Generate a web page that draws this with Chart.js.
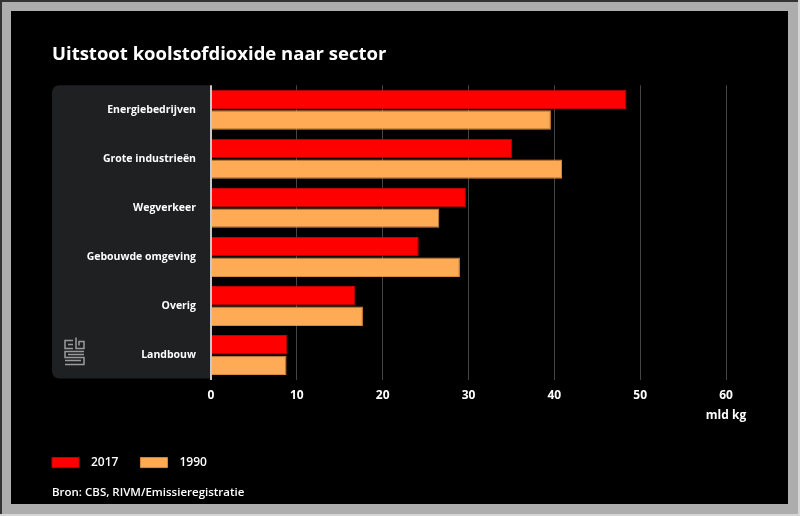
<!DOCTYPE html>
<html>
<head>
<meta charset="utf-8">
<script src="https://cdn.jsdelivr.net/npm/chart.js@4/dist/chart.umd.min.js"></script>
<style>
  html, body { margin: 0; padding: 0; background: #000; }
  #wrap { width: 800px; height: 516px; position: relative; }
</style>
</head>
<body>
<div id="wrap"><canvas id="chart" width="800" height="516"></canvas></div>
<script>
// data (mld kg CO2)
const sectors = ['Energiebedrijven', 'Grote industrieën', 'Wegverkeer', 'Gebouwde omgeving', 'Overig', 'Landbouw'];
const values2017 = [48.4, 35.1, 29.7, 24.2, 16.8, 8.9];
const values1990 = [39.6, 40.9, 26.6, 29.0, 17.7, 8.8];
const xTicks = [0, 10, 20, 30, 40, 50, 60];
const unitLabel = 'mld kg';

const FONT = '"Open Sans", "Noto Sans", sans-serif';

// grey photo frame + dark label panel + cbs logo
const framePlugin = {
    id: 'frame',
    beforeDraw(chart) {
        const ctx = chart.ctx;
        const W = chart.width, H = chart.height;
        ctx.save();
        ctx.fillStyle = '#adadad';
        ctx.fillRect(0, 0, W, H);
        ctx.fillStyle = '#333';
        ctx.fillRect(0, 0, W, 2);
        ctx.fillRect(0, 0, 2, H);
        ctx.fillStyle = '#d6d6d6';
        ctx.fillRect(W - 2, 0, 2, H);
        ctx.fillRect(0, H - 2, W, 2);
        ctx.fillStyle = '#000';
        ctx.fillRect(11, 11, 777, 493);

        // panel behind category labels
        const ca = chart.chartArea;
        const y = chart.scales.y;
        const x0 = y.left, x1 = ca.left, top = ca.top, bot = ca.bottom - 1;
        const r = 8;
        ctx.fillStyle = '#1f2022';
        ctx.beginPath();
        ctx.moveTo(x1, top);
        ctx.lineTo(x0 + r, top);
        ctx.quadraticCurveTo(x0, top, x0, top + r);
        ctx.lineTo(x0, bot - r);
        ctx.quadraticCurveTo(x0, bot, x0 + r, bot);
        ctx.lineTo(x1, bot);
        ctx.closePath();
        ctx.fill();

        // rough cbs logo
        const lx = x0 + 13, ly = bot - 41;
        ctx.strokeStyle = '#9a9a9a';
        ctx.lineWidth = 1.5;
        ctx.beginPath();
        // c
        ctx.moveTo(lx + 8, ly + 3); ctx.lineTo(lx, ly + 3); ctx.lineTo(lx, ly + 11); ctx.lineTo(lx + 8, ly + 11);
        ctx.moveTo(lx + 8, ly + 7); ctx.lineTo(lx + 3, ly + 7);
        // b
        ctx.moveTo(lx + 11, ly); ctx.lineTo(lx + 11, ly + 11); ctx.lineTo(lx + 19, ly + 11); ctx.lineTo(lx + 19, ly + 4); ctx.lineTo(lx + 14, ly + 4); ctx.lineTo(lx + 14, ly + 8);
        // s
        ctx.moveTo(lx + 19, ly + 14); ctx.lineTo(lx, ly + 14); ctx.lineTo(lx, ly + 20); ctx.lineTo(lx + 19, ly + 20);
        ctx.lineTo(lx + 19, ly + 27); ctx.lineTo(lx, ly + 27);
        ctx.moveTo(lx + 3, ly + 17); ctx.lineTo(lx + 19, ly + 17);
        ctx.moveTo(lx, ly + 23); ctx.lineTo(lx + 16, ly + 23);
        ctx.stroke();
        ctx.restore();
    },
    afterLayout(chart) {
        // legend starts flush with the title
        chart.legend.left -= 10;
        chart.legend.right -= 10;
    }
};

new Chart(document.getElementById('chart'), {
    type: 'bar',
    data: {
        labels: sectors,
        datasets: [
            {
                label: '2017',
                data: values2017,
                backgroundColor: '#ff0000',
                borderColor: '#c40000',
                borderWidth: 1,
                borderSkipped: 'left',
                categoryPercentage: 0.84,
                barPercentage: 0.94
            },
            {
                label: '1990',
                data: values1990,
                backgroundColor: '#ffab55',
                borderColor: '#d98a3c',
                borderWidth: 1,
                borderSkipped: 'left',
                categoryPercentage: 0.84,
                barPercentage: 0.94
            }
        ]
    },
    options: {
        indexAxis: 'y',
        responsive: false,
        animation: false,
        layout: { padding: { top: 30, left: 52, right: 74, bottom: 8 } },
        scales: {
            x: {
                min: 0,
                max: 60,
                afterBuildTicks(scale) {
                    scale.ticks = xTicks.map(v => ({ value: v }));
                },
                afterFit(scale) { scale.height = 67; },
                border: { display: false },
                grid: {
                    color: ctx => ctx.tick && ctx.tick.value === 0 ? '#c8c8c8' : '#444',
                    lineWidth: ctx => ctx.tick && ctx.tick.value === 0 ? 2 : 1,
                    drawTicks: false
                },
                ticks: {
                    color: '#fff',
                    padding: 6,
                    maxRotation: 0,
                    font: { family: FONT, size: 12, weight: 'bold', lineHeight: '20px' },
                    callback: v => v === 60 ? [String(v), unitLabel] : String(v)
                }
            },
            y: {
                afterFit(scale) { scale.width = 159; },
                border: { display: false },
                grid: { display: false },
                ticks: {
                    color: '#fff',
                    padding: 7,
                    font: { family: FONT, size: 10.5, weight: 'bold' }
                }
            }
        },
        plugins: {
            title: {
                display: true,
                text: 'Uitstoot koolstofdioxide naar sector',
                align: 'start',
                color: '#fff',
                font: { family: FONT, size: 18.5, weight: 'bold' },
                padding: { top: 14, bottom: 19 }
            },
            subtitle: {
                display: true,
                position: 'bottom',
                align: 'start',
                text: 'Bron: CBS, RIVM/Emissieregistratie',
                color: '#fff',
                font: { family: FONT, size: 11.5, weight: '600' },
                padding: { top: 7.6, bottom: 8 }
            },
            legend: {
                position: 'bottom',
                align: 'start',
                labels: {
                    color: '#fff',
                    boxWidth: 27,
                    boxHeight: 10,
                    padding: 10,
                    font: { family: FONT, size: 12, weight: '600' },
                    generateLabels(chart) {
                        const items = Chart.defaults.plugins.legend.labels.generateLabels(chart);
                        items.forEach(it => { it.text = '\u2002' + it.text + '\u2002\u2002'; });
                        return items;
                    }
                }
            },
            tooltip: { enabled: false }
        }
    },
    plugins: [framePlugin]
});
</script>
</body>
</html>
